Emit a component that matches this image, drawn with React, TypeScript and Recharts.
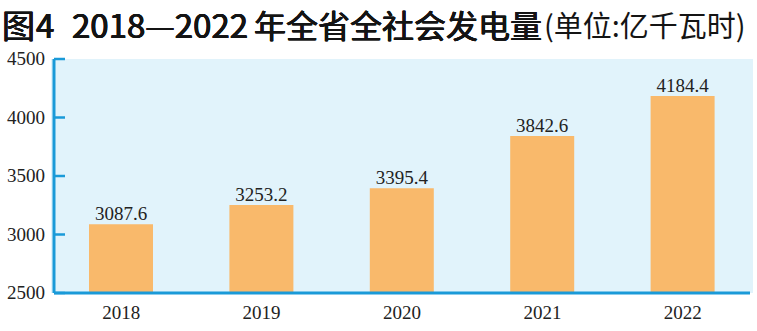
import React from "react";
import { BarChart, Bar, XAxis, YAxis, LabelList, ReferenceArea } from "recharts";

const years = ["2018", "2019", "2020", "2021", "2022"];
const output = [3087.6, 3253.2, 3395.4, 3842.6, 4184.4];
const yTicks = [2500, 3000, 3500, 4000, 4500];
const titleFig = "图4";
const titleYears = "2018—2022";
const titleSubject = "年全省全社会发电量";
const titleUnit = "(单位:亿千瓦时)";

const data = years.map((y, i) => ({ year: y, value: output[i] }));

const BLUE = "#1a9ad8";
const SERIF = "'Liberation Serif', 'DejaVu Serif', serif";
const CJK = "'Noto Sans CJK SC', sans-serif";
const FAUX_BOLD = "0.45px 0 0 #141414, -0.45px 0 0 #141414, 0 0.4px 0 #141414, 0 -0.4px 0 #141414";

const YTick = (props: any) => {
  const { x, y, payload } = props;
  return (
    <g>
      <line x1={x} x2={x + 11} y1={y} y2={y} stroke={BLUE} strokeWidth={2.5} />
      <text x={x - 9} y={y} dy={6} textAnchor="end" fontFamily={SERIF} fontSize={19} fill="#222">
        {payload.value}
      </text>
    </g>
  );
};

const XTick = (props: any) => {
  const { x, y, payload } = props;
  return (
    <text x={x} y={y} dy={26} textAnchor="middle" fontFamily={SERIF} fontSize={19} fill="#222">
      {payload.value}
    </text>
  );
};

const part = (width: number, size: number, heavy: boolean, ls: number) => ({
  display: "inline-block",
  width,
  flex: "none",
  fontSize: size,
  fontWeight: 400,
  letterSpacing: ls,
  whiteSpace: "nowrap" as const,
  lineHeight: "44px",
  textShadow: heavy ? FAUX_BOLD : undefined,
});

export default function App() {
  return (
    <div style={{ position: "absolute", left: 0, top: 0, width: 757, height: 331, background: "#fff" }}>
      <div
        style={{
          position: "absolute",
          left: 2,
          top: 1,
          width: 755,
          height: 46,
          display: "flex",
          alignItems: "center",
          fontFamily: CJK,
          color: "#141414",
        }}
      >
        <span style={part(70, 33, true, 1)}>{titleFig}</span>
        <span style={part(182, 33, true, 0)}>{titleYears}</span>
        <span style={part(290, 32, true, 0)}>{titleSubject}</span>
        <span style={part(210, 29, false, 0)}>{titleUnit}</span>
      </div>
      <BarChart
        width={757}
        height={331}
        data={data}
        margin={{ top: 59, right: 7, bottom: 0, left: 0 }}
        barSize={64}
      >
        <ReferenceArea x1="2018" x2="2022" y1={2500} y2={4500} fill="#e1f3fb" fillOpacity={1} stroke="none" ifOverflow="extendDomain" />
        <XAxis
          dataKey="year"
          height={38}
          padding={{ left: -3, right: -3 }}
          axisLine={{ stroke: BLUE, strokeWidth: 3 }}
          tickLine={false}
          tickSize={0}
          tickMargin={0}
          tick={<XTick />}
        />
        <YAxis
          width={54}
          domain={[2500, 4500]}
          ticks={yTicks}
          axisLine={{ stroke: BLUE, strokeWidth: 3 }}
          tickLine={false}
          tickSize={0}
          tickMargin={0}
          tick={<YTick />}
          interval={0}
        />
        <Bar dataKey="value" fill="#f9b96b" isAnimationActive={false}>
          <LabelList dataKey="value" position="top" offset={4} fontFamily={SERIF} fontSize={19} fill="#222" formatter={(v: any) => Number(v).toFixed(1)} />
        </Bar>
      </BarChart>
    </div>
  );
}
